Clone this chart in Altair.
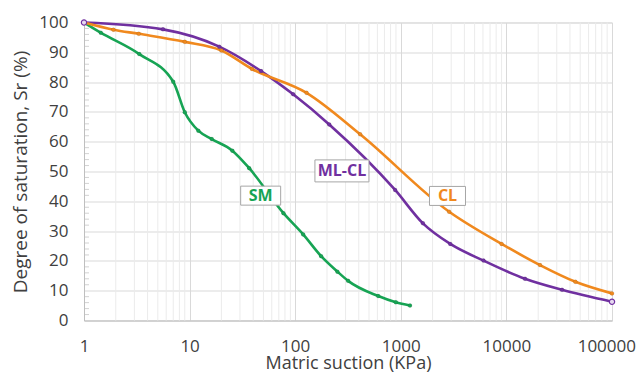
import altair as alt
import pandas as pd

# ---- data ----
sm_x = [1, 1.44, 3.34, 7.0, 9.0, 12.1, 16.2, 25.4, 36.7, 77.4, 119, 176, 251, 317, 612, 897, 1222]
sm_y = [100, 96.6, 89.4, 80.1, 69.9, 63.7, 60.9, 57.0, 51.1, 36.0, 28.9, 21.6, 16.4, 13.3, 8.2, 6.1, 5.0]

mlcl_x = [1, 5.6, 19.1, 47.5, 95.7, 210, 884, 1620, 2940, 6070, 15000, 33600, 100000]
mlcl_y = [100, 97.7, 91.9, 83.7, 75.9, 65.8, 43.8, 32.6, 25.7, 20.1, 14.0, 10.3, 6.3]

cl_x = [1, 1.9, 3.3, 9, 20, 39, 128, 412, 2870, 9000, 20800, 45000, 100000]
cl_y = [100, 97.6, 96.2, 93.5, 90.6, 84.4, 76.4, 62.5, 36.5, 25.7, 18.6, 13.0, 9.1]

series_names = ["SM", "ML-CL", "CL"]
series_colors = ["#17A454", "#7030A0", "#F0891E"]

label_text = ["SM", "ML-CL", "CL"]
label_x = [47.1, 277, 2768]
label_y = [41.9, 50.2, 41.8]

x_ticks = [1, 10, 100, 1000, 10000, 100000]
y_ticks = list(range(0, 101, 10))
minor_x = [m * 10 ** d for d in range(5) for m in range(2, 10)]
minor_y = [v for v in range(0, 101, 2) if v % 10 != 0]

# ---- build table ----
frames = []
for name, xs, ys in [("SM", sm_x, sm_y), ("ML-CL", mlcl_x, mlcl_y), ("CL", cl_x, cl_y)]:
    frames.append(pd.DataFrame({"suction": xs, "sr": ys, "soil": name}))
data = pd.concat(frames, ignore_index=True)
ends = pd.DataFrame({"suction": [mlcl_x[0], mlcl_x[-1]], "sr": [mlcl_y[0], mlcl_y[-1]]})

FONT = "Open Sans"
TXT = "#404040"
LAST = x_ticks[-1]
XLAB_PAD = 18

x_scale = alt.Scale(type="log", domain=[1, 100000], nice=False)
y_scale = alt.Scale(domain=[0, 100], nice=False)

x_axis = alt.Axis(values=x_ticks, format="d", title="Matric suction (KPa)",
                  labelExpr=f"datum.value == {LAST} ? '' : datum.label",
                  labelFont=FONT, titleFont=FONT, labelFontSize=17, titleFontSize=18,
                  labelColor=TXT, titleColor=TXT, titleFontWeight="normal",
                  labelPadding=XLAB_PAD, titlePadding=0, ticks=False,
                  gridColor="#D9D9D9", domainColor="#BFBFBF", labelFlush=False)
y_axis = alt.Axis(values=y_ticks, title="Degree of saturation, Sr (%)",
                  labelFont=FONT, titleFont=FONT, labelFontSize=17, titleFontSize=19,
                  labelColor=TXT, titleColor=TXT, titleFontWeight="normal",
                  labelPadding=16, titlePadding=8, ticks=False,
                  gridColor="#D9D9D9", domainColor="#BFBFBF")

def X(field="suction"):
    return alt.X(f"{field}:Q", scale=x_scale, axis=x_axis)

def Y(field="sr"):
    return alt.Y(f"{field}:Q", scale=y_scale, axis=y_axis)

color = alt.Color("soil:N", scale=alt.Scale(domain=series_names, range=series_colors), legend=None)

minor_rules = alt.Chart(pd.DataFrame({"suction": minor_x})).mark_rule(
    color="#EBEBEB", strokeWidth=1).encode(x=X())

minor_ticks = alt.Chart(pd.DataFrame({"sr": minor_y})).mark_tick(
    color="#BFBFBF", size=5, thickness=1).encode(y=Y(), x=alt.value(2.5))

lines = alt.Chart(data).mark_line(interpolate="monotone", strokeWidth=2.6).encode(
    x=X(), y=Y(), color=color, detail="soil:N")

points = alt.Chart(data).mark_point(filled=True, size=16, opacity=1, stroke="#00000033",
                                    strokeWidth=0.5).encode(
    x=X(), y=Y(), color=color)

end_marks = alt.Chart(ends).mark_point(filled=False, size=28, stroke="#7030A0", strokeWidth=1.2,
                                       fill="#E6D9F0", fillOpacity=1, opacity=1).encode(x=X(), y=Y())

# last x tick label, kept inside the drawing's right edge
last_label = alt.Chart(pd.DataFrame({"suction": [LAST], "t": [str(LAST)]})).mark_text(
    font=FONT, fontSize=17, color=TXT, align="right", baseline="top", dx=24, dy=XLAB_PAD
).encode(x=X(), y=alt.value(298), text="t:N")

box_dims = {"SM": (40, 19), "ML-CL": (54, 22), "CL": (36, 19)}
label_layers = []
for txt, lx, ly, col in zip(label_text, label_x, label_y, series_colors):
    w, h = box_dims[txt]
    m = max(w, h)
    hw, hh = w / m, h / m
    path = f"M{-hw},{-hh}L{hw},{-hh}L{hw},{hh}L{-hw},{hh}Z"
    ldf = pd.DataFrame({"suction": [lx], "sr": [ly], "t": [txt]})
    box = alt.Chart(ldf).mark_point(shape=path, size=m * m, filled=True, fill="white",
                                    stroke="#A6A6A6", strokeWidth=1, opacity=1).encode(x=X(), y=Y())
    text = alt.Chart(ldf).mark_text(font=FONT, fontSize=16, fontWeight="bold", color=col,
                                    baseline="middle", align="center").encode(
        x=X(), y=Y(), text="t:N")
    label_layers += [box, text]

chart = alt.layer(minor_rules, minor_ticks, lines, points, end_marks, last_label,
                  *label_layers).properties(
    width=528, height=298,
    autosize=alt.AutoSizeParams(type="none"),
    padding={"left": 76, "top": 14.5, "right": 24, "bottom": 56.5},
).configure_view(stroke=None).configure(background="white")

chart.save("out.html", embed_options={"renderer": "svg", "actions": False})
